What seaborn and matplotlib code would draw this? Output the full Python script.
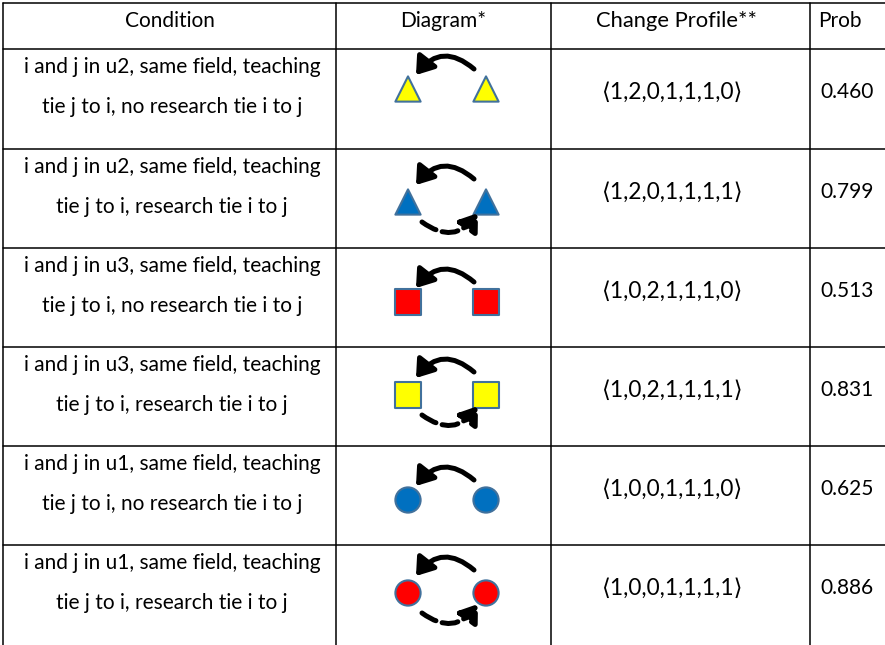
import seaborn as sns
import matplotlib.pyplot as plt
import pandas as pd
from matplotlib.patches import FancyArrowPatch

# table content
headers = ["Condition", "Diagram*", "Change Profile**", "Prob"]
conditions = [
    "i and j in u2, same field, teaching\ntie j to i, no research tie i to j",
    "i and j in u2, same field, teaching\ntie j to i, research tie i to j",
    "i and j in u3, same field, teaching\ntie j to i, no research tie i to j",
    "i and j in u3, same field, teaching\ntie j to i, research tie i to j",
    "i and j in u1, same field, teaching\ntie j to i, no research tie i to j",
    "i and j in u1, same field, teaching\ntie j to i, research tie i to j",
]
profiles = [
    "\u27e81,2,0,1,1,1,0\u27e9",
    "\u27e81,2,0,1,1,1,1\u27e9",
    "\u27e81,0,2,1,1,1,0\u27e9",
    "\u27e81,0,2,1,1,1,1\u27e9",
    "\u27e81,0,0,1,1,1,0\u27e9",
    "\u27e81,0,0,1,1,1,1\u27e9",
]
probs = [0.460, 0.799, 0.513, 0.831, 0.625, 0.886]
node_shape = ["triangle", "triangle", "square", "square", "circle", "circle"]
node_color = ["yellow", "blue", "red", "yellow", "blue", "red"]
research_tie = [False, True, False, True, False, True]

sns.set_theme(style="white")
plt.rcParams['font.family'] = ['Lato', 'DejaVu Sans']
plt.rcParams['text.color'] = 'black'

fig = plt.figure(figsize=(8.85, 6.45), dpi=100)
ax = fig.add_axes([0, 0, 1, 1])
ax.set_xlim(0, 885)
ax.set_ylim(645, 0)
ax.axis("off")

# grid
col_x = [3, 336, 551, 810]
row_y = [3, 49, 149, 248, 347, 446, 545]
for y in row_y:
    ax.plot([3, 885], [y, y], color="black", lw=1.1)
for x in col_x:
    ax.plot([x, x], [3, 645], color="black", lw=1.1)

fs = 15
ax.text(170, 21, headers[0], ha="center", va="center", fontsize=fs)
ax.text(443, 21, headers[1], ha="center", va="center", fontsize=fs)
ax.text(676, 21, headers[2], ha="center", va="center", fontsize=15.8)
ax.text(840, 21, headers[3], ha="center", va="center", fontsize=fs)

for i in range(6):
    top = row_y[i + 1]
    l1, l2 = conditions[i].split("\n")
    ax.text(172, top + 18, l1, ha="center", va="center", fontsize=fs)
    ax.text(172, top + 58, l2, ha="center", va="center", fontsize=fs)
    ax.text(673, top + 43, profiles[i], ha="center", va="center", fontsize=16.3)
    ax.text(847, top + 43, f"{probs[i]:.3f}", ha="center", va="center", fontsize=fs)

# diagram nodes
node_y = [89, 202, 302, 395, 500, 593]
rows = []
for i in range(6):
    for side in (408, 486):
        rows.append({"x": side, "y": node_y[i], "shape": node_shape[i], "color": node_color[i]})
nodes = pd.DataFrame(rows)
palette = {"yellow": "#FFFF00", "blue": "#0070C0", "red": "#FF0000"}
markers = {"triangle": "^", "square": "s", "circle": "o"}
sns.scatterplot(data=nodes, x="x", y="y", hue="color", style="shape",
                palette=palette, markers=markers, s=330, edgecolor="#41719C",
                linewidth=1.5, legend=False, ax=ax, zorder=3)

# arrows
head = "-|>,head_length=1.0,head_width=0.7"
for i in range(6):
    y = node_y[i]
    up = 6 if research_tie[i] else 0
    a = FancyArrowPatch((474, y - 20 - up / 2), (416, y - 14 - up / 2),
                        connectionstyle="arc3,rad=0.52",
                        arrowstyle=head, mutation_scale=10, lw=3.6,
                        color="black", shrinkA=0, shrinkB=0, zorder=4)
    ax.add_patch(a)
    if research_tie[i]:
        b = FancyArrowPatch((422, y + 20), (478, y + 11),
                            connectionstyle="arc3,rad=0.5",
                            arrowstyle=head, mutation_scale=10, lw=3.6,
                            color="black", linestyle=(0, (3.2, 1.3)),
                            shrinkA=0, shrinkB=0, zorder=4)
        ax.add_patch(b)

fig.savefig("out.png", dpi=100)
